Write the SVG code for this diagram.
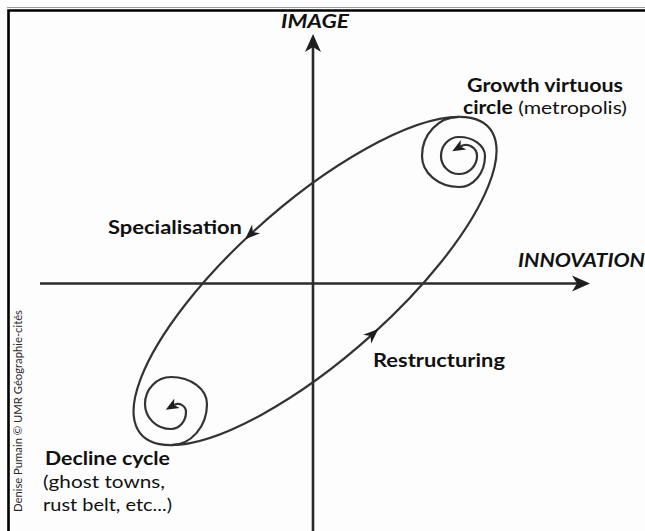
<svg xmlns="http://www.w3.org/2000/svg" width="645" height="531" viewBox="0 0 645 531">
  <style>
    .axis { stroke: #2b2b2b; stroke-width: 2.6; fill: none; }
    .loop { stroke: #333; stroke-width: 2.2; fill: none; }
    .lbl { font-family: Lato, "Open Sans", "Liberation Sans", sans-serif; font-size: 18px; fill: #111; }
    .b { font-weight: 700; }
    .ax { font-family: Lato, "Open Sans", "Liberation Sans", sans-serif; font-size: 19px; font-weight: 700; font-style: italic; fill: #111; }
    .credit { font-family: Lato, "Open Sans", "Liberation Sans", sans-serif; font-size: 12px; fill: #2a2a2a; }
  </style>
  <defs>
    <marker id="axHead" markerUnits="userSpaceOnUse" viewBox="0 -9 19 18" markerWidth="19" markerHeight="18" refX="5" refY="0" orient="auto">
      <path d="M18,0 L0,-8 L5,0 L0,8 z" fill="#1e1e1e"/>
    </marker>
    <marker id="midHead" markerUnits="userSpaceOnUse" viewBox="0 -8 16 16" markerWidth="16" markerHeight="16" refX="7" refY="0" orient="auto">
      <path d="M15,0 L0,-6 L4.5,0 L0,6 z" fill="#1e1e1e"/>
    </marker>
    <marker id="tipHead" markerUnits="userSpaceOnUse" viewBox="0 -6 14 12" markerWidth="14" markerHeight="12" refX="3.5" refY="0" orient="auto">
      <path d="M13,0 L0,-5.5 L3.5,0 L0,5.5 z" fill="#1e1e1e"/>
    </marker>
  </defs>

  <rect width="645" height="531" fill="#fdfdfd"/>

  <!-- frame -->
  <path d="M7,7.5 H645" stroke="#9a9a9a" stroke-width="1.2" fill="none"/>
  <path d="M8.5,540 V10.5 H650" stroke="#000" stroke-width="2.6" fill="none"/>

  <!-- axes -->
  <g id="axes">
    <path class="axis" d="M313,531 V47" marker-end="url(#axHead)"/>
    <path class="axis" d="M40,283.5 H577" marker-end="url(#axHead)"/>
    <text class="ax" x="315" y="28" text-anchor="middle" textLength="68" lengthAdjust="spacingAndGlyphs">IMAGE</text>
    <text class="ax" x="518" y="267" textLength="127" lengthAdjust="spacingAndGlyphs">INNOVATION</text>
  </g>

  <!-- cycle connectors -->
  <g id="connectors">
    <!-- upper branch: specialisation, towards decline -->
    <path class="loop" d="M459.2,116.9 A232,78 -41.4 0 0 251,233.7 A232,78 -41.4 0 0 170.8,445.1" marker-mid="url(#midHead)"/>
    <!-- lower branch: restructuring, towards growth -->
    <path class="loop" d="M170.8,445.1 A232,78 -41.4 0 0 372.4,334.4 A232,78 -41.4 0 0 459.2,116.9" marker-mid="url(#midHead)"/>
    <!-- growth spiral -->
    <path class="loop" d="M459.2,116.9 A37,39 0 0 0 422,156 A37,31 0 0 0 459,187 A26,31 0 0 0 485,156 A26,19 0 0 0 459,137 A18,19 0 0 0 441,156 A18,18 0 0 0 459,174 A18,18 0 0 0 477,156 A11,11 0 0 0 460.5,146.5" marker-end="url(#tipHead)"/>
    <!-- decline spiral -->
    <path class="loop" d="M170.8,445.1 A36,41 0 0 0 207,404 A36,27 0 0 0 171,377 A26,27 0 0 0 145,404 A26,25 0 0 0 171,429 A15,17 0 0 0 186,412 A8,8 0 0 0 174,405.1" marker-end="url(#tipHead)"/>
  </g>

  <g id="growth">
    <text class="lbl b" x="467" y="92" font-size="17" textLength="156" lengthAdjust="spacingAndGlyphs">Growth virtuous</text>
    <text class="lbl" x="463" y="113.5" font-size="17" textLength="164" lengthAdjust="spacingAndGlyphs"><tspan class="b">circle</tspan> (metropolis)</text>
  </g>

  <g id="specialisation">
    <text class="lbl b" x="108" y="234" textLength="134" lengthAdjust="spacingAndGlyphs">Specialisation</text>
  </g>

  <g id="restructuring">
    <text class="lbl b" x="373" y="367" textLength="132" lengthAdjust="spacingAndGlyphs">Restructuring</text>
  </g>

  <g id="decline">
    <text class="lbl b" x="45" y="465" textLength="125" lengthAdjust="spacingAndGlyphs">Decline cycle</text>
    <text class="lbl" x="43" y="488" textLength="122" lengthAdjust="spacingAndGlyphs">(ghost towns,</text>
    <text class="lbl" x="43" y="511" textLength="129" lengthAdjust="spacingAndGlyphs">rust belt, etc...)</text>
  </g>

  <text class="credit" transform="translate(22,512) rotate(-90)" textLength="202" lengthAdjust="spacingAndGlyphs">Denise Pumain © UMR Géographie-cités</text>
</svg>
